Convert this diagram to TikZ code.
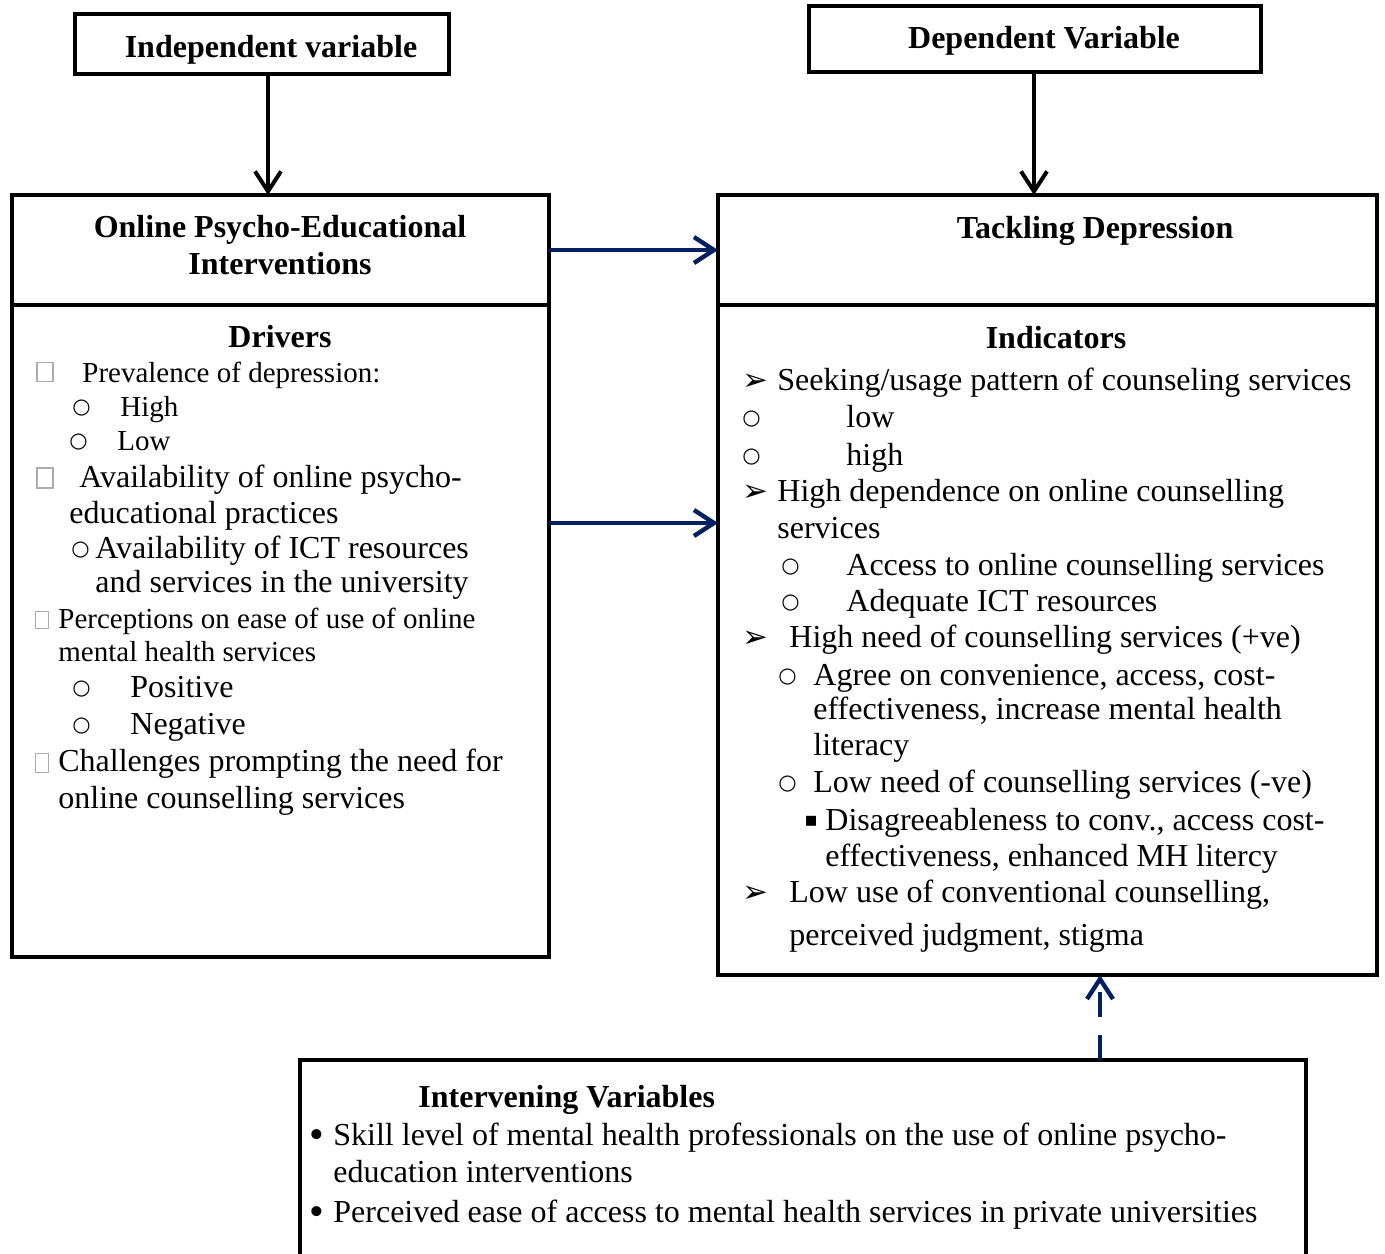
\documentclass[tikz,border=0pt]{standalone}
\usepackage{fontspec}
\setmainfont{Liberation Serif}
\newfontfamily\dejavu{DejaVu Sans}
\usepackage{xcolor}
\usetikzlibrary{arrows.meta,positioning,calc}
\definecolor{darknavy}{RGB}{0,32,96}

\begin{document}
\begin{tikzpicture}[x=0.5pt,y=-0.5pt,
    frame/.style={draw=black, line width=2.2pt, inner sep=0pt, outer sep=0pt},
    hd/.style={anchor=base, inner sep=0pt, font=\fontsize{16}{19}\selectfont\bfseries},
    txt/.style={anchor=base west, inner sep=0pt, font=\fontsize{16}{19}\selectfont},
    sml/.style={anchor=base west, inner sep=0pt, font=\fontsize{14.5}{17}\selectfont},
    circ/.style={anchor=base west, inner sep=0pt, font=\fontsize{10.5}{12}\selectfont\dejavu},
    tri/.style={anchor=base west, inner sep=0pt, font=\fontsize{15.5}{17}\selectfont\dejavu},
    sqr/.style={anchor=base west, inner sep=0pt, font=\fontsize{10}{12}\selectfont\dejavu},
    dot/.style={anchor=base west, inner sep=0pt, font=\fontsize{21}{23}\selectfont},
    gbox/.style={draw=gray!65, line width=0.6pt, inner sep=0pt},
    blackarrow/.style={line width=2pt, -{Straight Barb[length=10pt,width=13pt]}},
    bluearrow/.style={draw=darknavy, line width=2.2pt, -{Straight Barb[length=10pt,width=13pt]}}
  ]
    \useasboundingbox (0,0) rectangle (1385,1253);

    % boxes
    \node[frame, minimum width=187pt, minimum height=30pt] (indep) at (262,44) {};
    \node[frame, minimum width=226pt, minimum height=33pt] (dep) at (1035,39) {};
    \node[frame, minimum width=268.5pt, minimum height=55pt] (ope) at (280.5,250) {};
    \node[frame, minimum width=268.5pt, minimum height=326pt] (drv) at (280.5,631) {};
    \node[frame, minimum width=329.5pt, minimum height=55pt] (tack) at (1047.5,250) {};
    \node[frame, minimum width=329.5pt, minimum height=335pt] (ind) at (1047.5,640) {};
    \node[frame, minimum width=503pt, minimum height=102.5pt] (intv) at (803,1162.5) {};

    \node[hd] (indeptxt) at (271,57) {Independent variable};
    \node[hd] (deptxt) at (1044,48) {Dependent Variable};

    % arrows
    \coordinate (ivx) at (268,0);
    \coordinate (dvx) at (1034,0);
    \coordinate (mid) at (0,523);
    \coordinate (ivy) at (1100,0);
    \draw[blackarrow] (indep.south -| ivx) -- (ope.north -| ivx);
    \draw[blackarrow] (dep.south -| dvx) -- (tack.north -| dvx);
    \draw[bluearrow] (ope.east) -- (tack.west);
    \draw[bluearrow] (drv.east |- mid) -- (ind.west |- mid);
    \draw[bluearrow, dash pattern=on 12.5pt off 9pt] (intv.north -| ivy) -- (ind.south -| ivy);

    % left side
    \node[hd] (ope1) at (280,237) {Online Psycho-Educational};
    \node[hd] (ope2) at (280,274) {Interventions};
    \node[hd] (drvhd) at (280,347) {Drivers};
    \node[gbox, minimum width=8pt, minimum height=9.5pt] (sq1) at (45,372) {};
    \node[sml] (d1) at (82,382) {Prevalence of depression:};
    \node[circ] (c1) at (72,413) {○};
    \node[sml] (d2) at (120,416) {High};
    \node[circ] (c2) at (69,447) {○};
    \node[sml] (d3) at (117,450) {Low};
    \node[gbox, minimum width=8pt, minimum height=10pt] (sq2) at (45,478) {};
    \node[txt] (d4) at (79,487) {Availability of online psycho-};
    \node[txt] (d5) at (69,523) {educational practices};
    \node[circ] (c3) at (71,555) {○};
    \node[txt] (d6) at (95,558) {Availability of ICT resources};
    \node[txt] (d7) at (95,592) {and services in the university};
    \node[gbox, minimum width=6.5pt, minimum height=8.5pt] (sq3) at (42,620) {};
    \node[sml] (d8) at (58,628) {Perceptions on ease of use of online};
    \node[sml] (d9) at (58,661) {mental health services};
    \node[circ] (c4) at (72,694) {○};
    \node[txt] (d10) at (130,697) {Positive};
    \node[circ] (c5) at (72,731) {○};
    \node[txt] (d11) at (130,734) {Negative};
    \node[gbox, minimum width=6.5pt, minimum height=9.5pt] (sq4) at (42,763) {};
    \node[txt] (d12) at (58,771) {Challenges prompting the need for};
    \node[txt] (d13) at (58,808) {online counselling services};

    % right side
    \node[hd] (tack1) at (1095,238) {Tackling Depression};
    \node[hd] (indhd) at (1056,348) {Indicators};
    \node[tri] (a1) at (742,390) {➢};
    \node[txt] (i1) at (777,390) {Seeking/usage pattern of counseling services};
    \node[circ] (e1) at (742,424) {○};
    \node[txt] (i2) at (846,427) {low};
    \node[circ] (e2) at (742,462) {○};
    \node[txt] (i3) at (846,465) {high};
    \node[tri] (a2) at (742,501) {➢};
    \node[txt] (i4) at (777,501) {High dependence on online counselling};
    \node[txt] (i5) at (777,538) {services};
    \node[circ] (e3) at (781,572) {○};
    \node[txt] (i6) at (846,575) {Access to online counselling services};
    \node[circ] (e4) at (781,608) {○};
    \node[txt] (i7) at (846,611) {Adequate ICT resources};
    \node[tri] (a3) at (742,647) {➢};
    \node[txt] (i8) at (789,647) {High need of counselling services (+ve)};
    \node[circ] (e5) at (778,682) {○};
    \node[txt] (i9) at (813,685) {Agree on convenience, access, cost-};
    \node[txt] (i10) at (813,719) {effectiveness, increase mental health};
    \node[txt] (i11) at (813,755) {literacy};
    \node[circ] (e6) at (778,789) {○};
    \node[txt] (i12) at (813,792) {Low need of counselling services (-ve)};
    \node[sqr] (s1) at (804,826) {▪};
    \node[txt] (i13) at (825,830) {Disagreeableness to conv., access cost-};
    \node[txt] (i14) at (825,866) {effectiveness, enhanced MH litercy};
    \node[tri] (a4) at (742,902) {➢};
    \node[txt] (i15) at (789,902) {Low use of conventional counselling,};
    \node[txt] (i16) at (789,945) {perceived judgment, stigma};

    % intervening
    \node[hd, anchor=base west] (intvhd) at (418,1107) {Intervening Variables};
    \node[dot] (b1) at (309,1148) {•};
    \node[txt] (v1) at (333,1145) {Skill level of mental health professionals on the use of online psycho-};
    \node[txt] (v2) at (333,1182) {education interventions};
    \node[dot] (b2) at (309,1225) {•};
    \node[txt] (v3) at (333,1222) {Perceived ease of access to mental health services in private universities};
\end{tikzpicture}
\end{document}
